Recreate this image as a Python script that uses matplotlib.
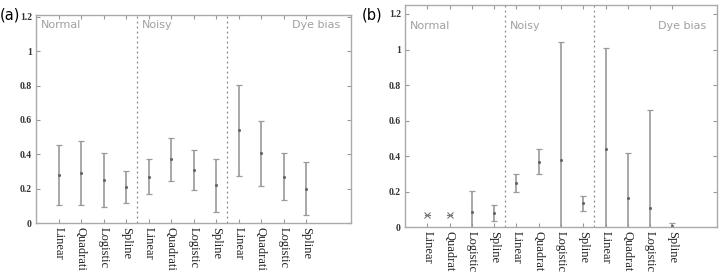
import numpy as np
import matplotlib
matplotlib.use('Agg')
import matplotlib.pyplot as plt

#---------DATA------------
groups = ['Normal', 'Noisy', 'Dye bias']
labels_a = ['Linear', 'Quadrati', 'Logistic', 'Spline'] * 3
labels_b = ['Linear', 'Quadrat', 'Logistic', 'Spline'] * 3

# panel (a): mean and half-width of error bar
mean_a = [0.28, 0.29, 0.25, 0.21,
          0.27, 0.37, 0.31, 0.22,
          0.54, 0.405, 0.27, 0.20]
err_a = [0.175, 0.185, 0.155, 0.095,
         0.10, 0.125, 0.115, 0.155,
         0.265, 0.19, 0.135, 0.155]

# panel (b)
mean_b = [0.07, 0.07, 0.088, 0.08,
          0.25, 0.37, 0.38, 0.135,
          0.44, 0.167, 0.11, 0.01]
err_b = [0.0, 0.0, 0.117, 0.045,
         0.05, 0.07, 0.665, 0.043,
         0.566, 0.253, 0.55, 0.016]

GRAY = '#9a9a9a'


def draw_panel(ax, means, errs, labels, ytop, text_y):
    x = np.arange(1, len(means) + 1)
    for xi, m, e in zip(x, means, errs):
        if e == 0:
            ax.plot(xi, m, marker='x', color='#777777', ms=4, mew=0.8)
            ax.plot([xi - 0.12, xi + 0.12], [m, m], color='#777777', lw=0.8)
        else:
            ax.errorbar(xi, m, yerr=e, fmt='.', color=GRAY, ecolor=GRAY,
                        ms=2.5, elinewidth=1.2, capsize=2.5, capthick=0.9,
                        mfc='#666666', mec='#666666')
    for d in [4.5, 8.5]:
        ax.axvline(d, color='#888888', ls=(0, (1.5, 2.5)), lw=0.9)
    ax.set_xlim(0, 14)
    ax.set_ylim(0, ytop)
    ax.set_xticks(x)
    ax.set_xticklabels(labels, rotation=270, family='Liberation Serif',
                       fontsize=9, color='#222222')
    ax.set_yticks([0, 0.2, 0.4, 0.6, 0.8, 1, 1.2])
    ax.set_yticklabels(['0', '0.2', '0.4', '0.6', '0.8', '1', '1.2'],
                       family='Liberation Serif', fontsize=7, fontweight='bold',
                       color='#333333')
    ax.tick_params(direction='in', length=3, color='#999999', top=True,
                   right=True, pad=3)
    for s in ax.spines.values():
        s.set_color('#aaaaaa')
        s.set_linewidth(1.0)
    ax.text(0.2, text_y, groups[0], color='#a0a0a0', fontsize=8, va='center')
    ax.text(4.7, text_y, groups[1], color='#a0a0a0', fontsize=8, va='center')
    ax.text(13.5, text_y, groups[2], color='#a0a0a0', fontsize=8,
            va='center', ha='right')
    return ax


fig = plt.figure(figsize=(7.2, 2.75), dpi=100)
ax1 = fig.add_axes([0.05, 0.189, 0.4375, 0.756])
ax2 = fig.add_axes([0.5625, 0.1735, 0.4333, 0.808])

draw_panel(ax1, mean_a, err_a, labels_a, 1.21, 1.15)
draw_panel(ax2, mean_b, err_b, labels_b, 1.25, 1.13)

fig.text(0.0, 0.945, '(a)', fontsize=10.5, va='center', ha='left')
fig.text(0.502, 0.945, '(b)', fontsize=10.5, va='center', ha='left')

fig.savefig('out.png', dpi=100)
